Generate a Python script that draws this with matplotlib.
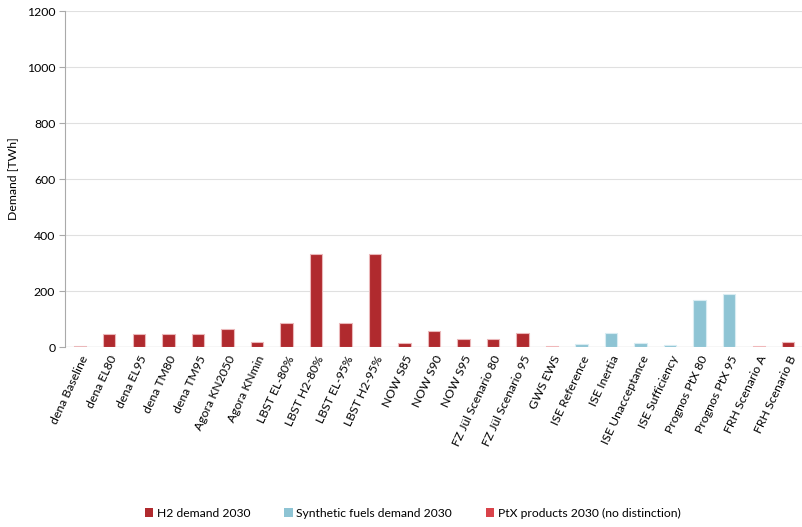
import matplotlib.pyplot as plt
from matplotlib.patches import Patch

plt.rcParams['font.family'] = ['Lato', 'DejaVu Sans']

scenarios = ['dena Baseline', 'dena EL80', 'dena EL95', 'dena TM80', 'dena TM95',
             'Agora KN2050', 'Agora KNmin', 'LBST EL-80%', 'LBST H2-80%', 'LBST EL-95%',
             'LBST H2-95%', 'NOW S85', 'NOW S90', 'NOW S95', 'FZ Jül Scenario 80',
             'FZ Jül Scenario 95', 'GWS EWS', 'ISE Reference', 'ISE Inertia',
             'ISE Unacceptance', 'ISE Sufficiency', 'Prognos PtX 80', 'Prognos PtX 95',
             'FRH Scenario A', 'FRH Scenario B']
demand = [2, 46, 46, 45, 45, 63, 18, 87, 333, 87, 333, 13, 57, 29, 29, 50,
          3, 12, 50, 14, 7, 167, 189, 5, 19]
kind = ['h2'] * 16 + ['ptx'] + ['syn'] * 6 + ['ptx', 'h2']

colors = {'h2': '#B02A2E', 'syn': '#8EC4D4', 'ptx': '#D9434A'}
edges = {'h2': '#EBB8BA', 'syn': '#D8ECF2', 'ptx': '#F0B8BA'}
labels = {'h2': 'H2 demand 2030', 'syn': 'Synthetic fuels demand 2030',
          'ptx': 'PtX products 2030 (no distinction)'}

fig = plt.figure(figsize=(8.03, 5.27), dpi=100)
ax = fig.add_axes([65 / 803, 1 - 347 / 527, 738 / 803, 336 / 527])

x = range(len(scenarios))
ax.bar(x, demand, width=0.42, color=[colors[k] for k in kind],
       edgecolor=[edges[k] for k in kind], linewidth=0.8, zorder=3)

ax.set_xlim(-0.5, len(scenarios) - 0.5)
ax.set_ylim(0, 1200)
ax.set_yticks(range(0, 1201, 200))
ax.grid(axis='y', color='#E0E0E0', linewidth=0.8, zorder=0)
ax.set_xticks(list(x))
ax.set_xticklabels(scenarios, rotation=65, ha='right', rotation_mode='anchor',
                   fontsize=8.8)
ax.tick_params(axis='x', length=0, pad=5)
ax.tick_params(axis='y', labelsize=8.8, length=4, color='#AAAAAA', pad=3)
for s in ['top', 'right', 'bottom']:
    ax.spines[s].set_visible(False)
ax.spines['left'].set_color('#AAAAAA')
ax.axhline(0, color='#CCCCCC', linewidth=0.9, zorder=2)
ax.set_ylabel('Demand [TWh]', fontsize=8.8, labelpad=6)

handles = [Patch(facecolor=colors[k], label=labels[k]) for k in ['h2', 'syn', 'ptx']]
fig.legend(handles=handles, loc='center', bbox_to_anchor=(0.514, 1 - 513 / 527),
           ncol=3, frameon=False, fontsize=8.7, handlelength=0.7, handleheight=0.7,
           columnspacing=2.8, handletextpad=0.3)

fig.savefig('out.png', dpi=100)
